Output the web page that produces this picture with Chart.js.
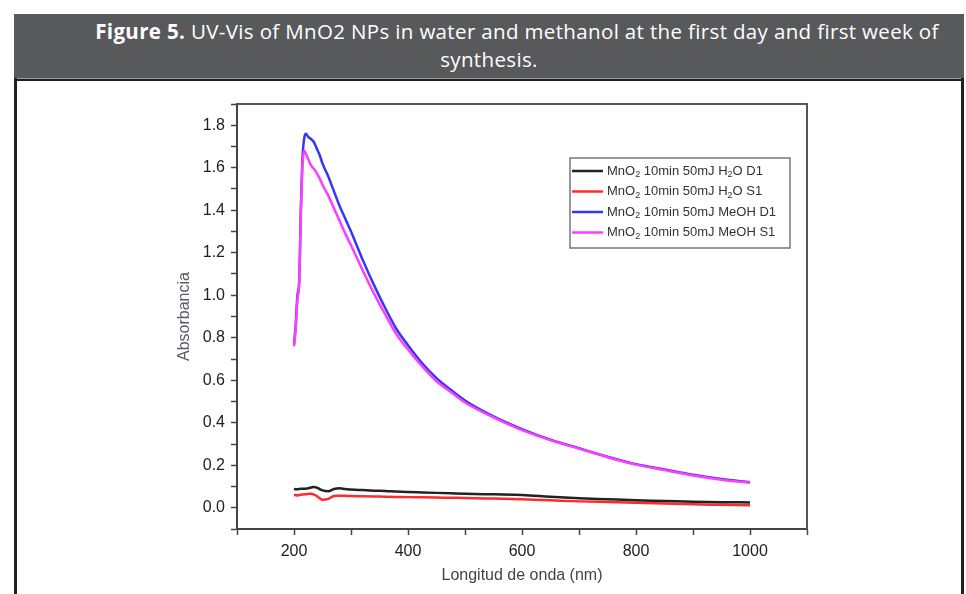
<!DOCTYPE html>
<html>
<head>
<meta charset="utf-8">
<script src="https://cdn.jsdelivr.net/npm/chart.js@4.4.1/dist/chart.umd.min.js"></script>
<style>
  body { margin: 0; background: #fff; width: 966px; height: 594px; overflow: hidden; position: relative; }
  #frame { position: absolute; left: 14px; top: 14px; width: 944px; height: 600px; border-left: 3px solid #231f20; border-right: 3px solid #231f20; }
  #header { position: absolute; left: 14px; top: 14px; width: 950px; height: 61px; background: #58595b; border-bottom: 3px solid #231f20; color: #fff; font-family: "Open Sans", sans-serif; font-size: 20.5px; letter-spacing: 0.35px; line-height: 28px; text-align: center; padding-top: 3px; box-sizing: content-box; }
  #header .l1 { padding-left: 56px; }
  #header b { font-weight: 700; }
  #sep { position: absolute; left: 17px; top: 78px; width: 944px; height: 1px; background: #9c9c9c; }
  #chart { position: absolute; left: 17px; top: 80px; }
</style>
</head>
<body>
<div id="frame"></div>
<div id="header"><span class="l1"><b>Figure 5.</b> UV-Vis of MnO2 NPs in water and methanol at the first day and first week of</span><br>synthesis.</div>
<div id="sep"></div>
<canvas id="chart" width="944" height="514"></canvas>
<script>
// Данные спектров (длина волны, нм)
const wavelengths = [200, 203, 206, 209, 212, 215, 218, 221, 225, 230, 235, 240, 245, 250, 260, 270, 280, 290, 300, 320, 340, 360, 380, 400, 425, 450, 475, 500, 550, 600, 650, 700, 750, 800, 850, 900, 950, 1000];
const h2oD1 = [0.085, 0.088, 0.087, 0.088, 0.09, 0.09, 0.089, 0.09, 0.092, 0.095, 0.098, 0.095, 0.088, 0.082, 0.078, 0.088, 0.092, 0.088, 0.086, 0.083, 0.08, 0.079, 0.076, 0.074, 0.072, 0.07, 0.068, 0.066, 0.063, 0.06, 0.052, 0.045, 0.04, 0.035, 0.032, 0.028, 0.026, 0.025];
const h2oS1 = [0.058, 0.06, 0.058, 0.06, 0.061, 0.062, 0.063, 0.064, 0.065, 0.066, 0.062, 0.055, 0.045, 0.038, 0.042, 0.055, 0.057, 0.056, 0.055, 0.054, 0.053, 0.052, 0.051, 0.05, 0.049, 0.048, 0.047, 0.046, 0.043, 0.04, 0.035, 0.03, 0.027, 0.024, 0.02, 0.016, 0.014, 0.012];
const meohD1 = [0.77, 0.86, 1.0, 1.06, 1.4, 1.65, 1.74, 1.76, 1.745, 1.735, 1.72, 1.69, 1.66, 1.62, 1.56, 1.49, 1.42, 1.36, 1.3, 1.17, 1.05, 0.94, 0.84, 0.765, 0.68, 0.61, 0.555, 0.505, 0.43, 0.37, 0.32, 0.28, 0.24, 0.205, 0.18, 0.155, 0.135, 0.12];
const meohS1 = [0.76, 0.84, 0.98, 1.05, 1.38, 1.62, 1.68, 1.665, 1.64, 1.61, 1.595, 1.575, 1.55, 1.52, 1.47, 1.41, 1.35, 1.29, 1.235, 1.12, 1.01, 0.91, 0.815, 0.745, 0.665, 0.595, 0.545, 0.495, 0.425, 0.365, 0.318, 0.278, 0.238, 0.203, 0.177, 0.152, 0.132, 0.118];

const seriesLabels = ['MnO₂ 10min 50mJ H₂O D1', 'MnO₂ 10min 50mJ H₂O S1', 'MnO₂ 10min 50mJ MeOH D1', 'MnO₂ 10min 50mJ MeOH S1'];
const seriesColors = ['#222222', '#ff2b2b', '#3438f5', '#ff3cff'];
const xTickLabels = [200, 400, 600, 800, 1000];
const yTickLabels = [0.0, 0.2, 0.4, 0.6, 0.8, 1.0, 1.2, 1.4, 1.6, 1.8];

const FONT = '"Liberation Sans", Arial, sans-serif';

function toPoints(ys) {
    return wavelengths.map((x, i) => ({ x: x, y: ys[i] }));
}

// Рамка вокруг области графика
const framePlugin = {
    id: 'frame',
    afterDraw(chart) {
        const { ctx, chartArea: a } = chart;
        ctx.save();
        ctx.strokeStyle = '#555';
        ctx.lineWidth = 2;
        ctx.beginPath();
        ctx.moveTo(a.left, a.top);
        ctx.lineTo(a.right, a.top);
        ctx.lineTo(a.right, a.bottom);
        ctx.stroke();
        ctx.restore();
    }
};

// Легенда внутри графика с подстрочными индексами
const legendPlugin = {
    id: 'innerLegend',
    afterDraw(chart) {
        const { ctx, chartArea: a } = chart;
        const x0 = a.left + 333, y0 = a.top + 54, w = 220, h = 90;
        ctx.save();
        ctx.fillStyle = '#fff';
        ctx.fillRect(x0, y0, w, h);
        ctx.strokeStyle = '#777';
        ctx.lineWidth = 1.5;
        ctx.strokeRect(x0, y0, w, h);
        chart.data.datasets.forEach((ds, i) => {
            const y = y0 + 13 + i * 20.5;
            ctx.strokeStyle = ds.borderColor;
            ctx.lineWidth = 2.5;
            ctx.beginPath();
            ctx.moveTo(x0 + 2, y);
            ctx.lineTo(x0 + 33, y);
            ctx.stroke();
            let tx = x0 + 37;
            ctx.fillStyle = '#333';
            ctx.textBaseline = 'middle';
            ds.label.split('₂').forEach((part, j) => {
                if (j > 0) {
                    ctx.font = '9px ' + FONT;
                    ctx.fillText('2', tx, y + 4);
                    tx += ctx.measureText('2').width;
                }
                ctx.font = '13px ' + FONT;
                ctx.fillText(part, tx, y);
                tx += ctx.measureText(part).width;
            });
        });
        ctx.restore();
    }
};

const ctx = document.getElementById('chart').getContext('2d');
const chart = new Chart(ctx, {
    type: 'line',
    data: {
        datasets: [
            { label: seriesLabels[0], data: toPoints(h2oD1), borderColor: seriesColors[0], order: 0 },
            { label: seriesLabels[1], data: toPoints(h2oS1), borderColor: seriesColors[1], order: 1 },
            { label: seriesLabels[2], data: toPoints(meohD1), borderColor: seriesColors[2], order: 3 },
            { label: seriesLabels[3], data: toPoints(meohS1), borderColor: seriesColors[3], order: 2 }
        ]
    },
    options: {
        responsive: false,
        animation: false,
        layout: { padding: { left: 150, right: 154, top: 24, bottom: 0 } },
        elements: {
            point: { radius: 0 },
            line: { borderWidth: 2.5, tension: 0, cubicInterpolationMode: 'monotone' }
        },
        plugins: { legend: { display: false }, tooltip: { enabled: false } },
        scales: {
            x: {
                type: 'linear',
                min: 100,
                max: 1100,
                afterFit: (s) => { s.height = 65; },
                border: { color: '#444', width: 2 },
                grid: { drawOnChartArea: false, tickLength: 6, color: '#444', tickWidth: 1.5 },
                ticks: {
                    stepSize: 100,
                    autoSkip: false,
                    maxRotation: 0,
                    padding: 7,
                    color: '#222',
                    font: { family: FONT, size: 16 },
                    callback: (v) => xTickLabels.includes(v) ? String(v) : ''
                },
                title: {
                    display: true,
                    text: 'Longitud de onda (nm)',
                    color: '#444',
                    font: { family: FONT, size: 16 },
                    padding: { top: 0, bottom: 9 }
                }
            },
            y: {
                min: -0.1,
                max: 1.9,
                afterFit: (s) => { s.width = 70; },
                border: { color: '#444', width: 2 },
                grid: { drawOnChartArea: false, tickLength: 6, color: '#444', tickWidth: 1.5 },
                ticks: {
                    stepSize: 0.1,
                    autoSkip: false,
                    padding: 6,
                    color: '#222',
                    font: { family: FONT, size: 16 },
                    callback: (v) => {
                        const r = Math.round(v * 10) / 10;
                        return yTickLabels.some(t => Math.abs(t - r) < 1e-6) ? r.toFixed(1) : '';
                    }
                },
                title: {
                    display: true,
                    text: 'Absorbancia',
                    color: '#5a5a6a',
                    font: { family: FONT, size: 16 },
                    padding: { top: 8, bottom: 0 }
                }
            }
        }
    },
    plugins: [framePlugin, legendPlugin]
});
</script>
</body>
</html>
